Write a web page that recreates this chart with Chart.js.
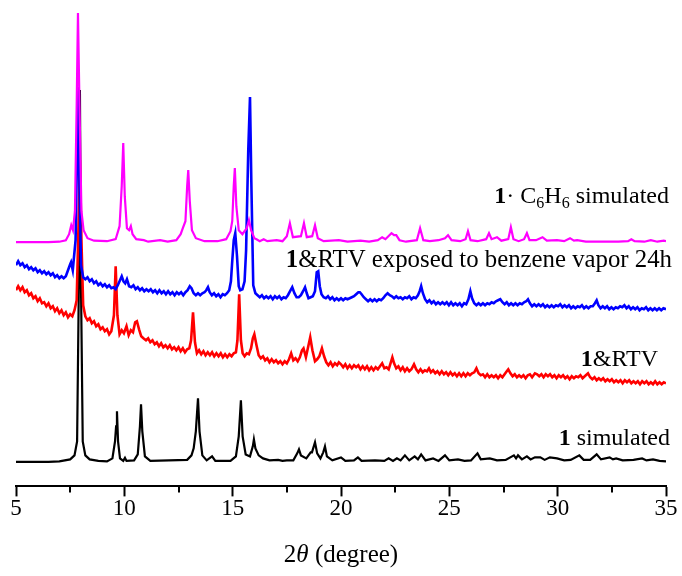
<!DOCTYPE html>
<html>
<head>
<meta charset="utf-8">
<script src="https://cdn.jsdelivr.net/npm/chart.js@4"></script>
<style>
html,body{margin:0;padding:0;background:#fff;}
#wrap{width:682px;height:576px;}
</style>
</head>
<body>
<div id="wrap"><canvas id="c" width="682" height="576"></canvas></div>
<script>
// ---- Data: [2theta (degree), stacked intensity (a.u.)] ----
const xTickLabels = ['5', '10', '15', '20', '25', '30', '35'];

const simBenzPoints = [[5.0,244],[6.5,244],[7.0,244.5],[7.3,246],[7.45,252],[7.55,261],[7.63,256],[7.72,275],[7.8,380],[7.86,473],[7.93,380],[8.02,275],[8.12,256],[8.3,248],[8.6,245.5],[9.2,245],[9.6,247],[9.78,260],[9.88,300],[9.95,343],[10.02,290],[10.12,258],[10.22,256],[10.3,260],[10.38,252],[10.55,247],[10.9,246],[11.1,244.5],[11.65,246],[12.0,244.5],[12.4,246],[12.6,252],[12.7,258],[12.82,265],[12.9,300],[12.95,316],[13.02,285],[13.12,256],[13.3,248],[13.7,245],[14.3,245],[14.7,247],[14.9,255],[14.98,265],[15.05,300],[15.1,318],[15.17,280],[15.28,256],[15.45,252],[15.65,258],[15.75,266],[15.85,256],[16.0,248],[16.1,247],[16.25,245],[16.43,247],[16.6,245],[17.03,246],[17.3,245],[17.5,250],[17.64,263],[17.78,249],[18.15,250],[18.29,263],[18.42,249],[18.67,250],[18.8,261],[18.93,248],[19.2,245],[19.9,246],[20.3,244.5],[20.9,245.5],[21.3,244.5],[21.7,246],[21.9,249],[22.05,247],[22.33,253],[22.45,251],[22.55,251],[22.7,246],[23.0,244.5],[23.5,246],[23.65,258],[23.8,246],[24.1,245],[24.5,246],[24.8,248],[24.94,251],[25.1,246],[25.5,245],[25.75,247],[25.86,255],[25.98,246],[26.3,245],[26.7,247],[26.83,253],[26.95,247],[27.2,249],[27.4,245.5],[27.72,247],[27.84,259],[27.96,247],[28.2,245],[28.45,247],[28.58,253],[28.7,246],[29.0,246],[29.3,249],[29.5,245.5],[29.97,246],[30.3,245],[30.57,248],[30.75,245.5],[30.9,246],[31.3,244.5],[32.0,244.5],[32.8,244.5],[33.25,245],[33.4,247],[33.55,245],[34.0,244.5],[34.3,246],[34.6,244.5],[34.9,245.5],[35.0,245]];

const exposedPoints = [[5.0,221],[5.1,225],[5.2,221],[5.3,223],[5.4,219],[5.5,221],[5.6,217],[5.7,219],[5.8,216],[5.9,218],[6.0,214],[6.1,216],[6.2,213],[6.3,215],[6.4,212],[6.5,214],[6.6,211],[6.7,213],[6.8,209],[6.9,211],[7.0,208],[7.1,210],[7.2,208],[7.3,210],[7.4,216],[7.5,222],[7.54,224],[7.62,216],[7.75,246],[7.82,336],[7.86,399],[7.92,316],[8.0,221],[8.1,209],[8.2,207],[8.3,209],[8.4,205],[8.5,207],[8.6,203],[8.7,205],[8.8,201],[8.9,203],[9.0,200],[9.1,202],[9.2,199],[9.3,201],[9.4,198],[9.5,199],[9.6,197],[9.7,201],[9.8,206],[9.88,210],[9.96,205],[10.04,203],[10.12,207],[10.22,200],[10.32,199],[10.42,201],[10.52,197],[10.62,199],[10.72,196],[10.82,198],[10.92,195],[11.02,197],[11.12,195],[11.22,197],[11.32,194],[11.42,196],[11.52,193],[11.62,196],[11.72,193],[11.82,195],[11.92,192],[12.02,195],[12.12,192],[12.22,194],[12.32,191],[12.42,194],[12.52,192],[12.62,194],[12.72,191],[12.82,194],[12.92,196],[13.02,200],[13.1,198],[13.2,193],[13.3,191],[13.4,193],[13.5,191],[13.6,193],[13.7,194],[13.78,196],[13.86,199],[13.94,194],[14.04,191],[14.14,193],[14.24,190],[14.34,192],[14.44,189],[14.54,192],[14.64,191],[14.74,193],[14.84,196],[14.92,205],[14.98,225],[15.05,246],[15.12,253],[15.2,230],[15.28,200],[15.35,196],[15.45,197],[15.55,205],[15.62,236],[15.72,336],[15.8,389],[15.86,306],[15.95,201],[16.05,193],[16.15,191],[16.25,189],[16.35,191],[16.45,188],[16.55,190],[16.65,188],[16.75,190],[16.85,187],[16.95,190],[17.05,188],[17.15,190],[17.25,187],[17.35,189],[17.45,188],[17.55,191],[17.65,195],[17.75,199],[17.85,193],[17.95,189],[18.05,189],[18.15,191],[18.25,195],[18.34,199],[18.42,193],[18.5,188],[18.6,189],[18.7,190],[18.8,195],[18.88,214],[18.95,215],[19.02,200],[19.1,192],[19.2,189],[19.3,188],[19.4,190],[19.5,187],[19.6,189],[19.7,186],[19.8,188],[19.9,186],[20.0,188],[20.1,186],[20.2,188],[20.3,187],[20.4,188],[20.5,189],[20.6,190],[20.7,192],[20.8,194],[20.87,194],[20.95,192],[21.05,189],[21.15,187],[21.25,185],[21.35,187],[21.45,185],[21.55,187],[21.65,185],[21.75,187],[21.85,186],[21.95,188],[22.05,191],[22.15,193],[22.25,191],[22.35,190],[22.45,188],[22.55,190],[22.65,188],[22.75,189],[22.85,187],[22.95,189],[23.05,188],[23.15,190],[23.25,187],[23.35,189],[23.45,188],[23.55,191],[23.63,195],[23.7,200],[23.78,193],[23.88,187],[23.98,184],[24.08,186],[24.18,183],[24.28,185],[24.38,182],[24.48,184],[24.58,182],[24.68,184],[24.78,182],[24.88,184],[24.98,181],[25.08,184],[25.18,181],[25.28,183],[25.38,181],[25.48,183],[25.58,180],[25.68,183],[25.78,182],[25.88,187],[25.97,195],[26.05,188],[26.15,183],[26.25,181],[26.35,183],[26.45,181],[26.55,183],[26.65,181],[26.75,183],[26.85,182],[26.95,184],[27.05,183],[27.15,185],[27.25,186],[27.35,187],[27.45,184],[27.55,182],[27.65,184],[27.75,181],[27.85,183],[27.95,181],[28.05,183],[28.15,181],[28.25,183],[28.35,182],[28.45,184],[28.55,185],[28.63,187],[28.72,183],[28.82,180],[28.92,182],[29.02,180],[29.12,182],[29.22,180],[29.32,182],[29.42,179],[29.52,181],[29.62,179],[29.72,181],[29.82,179],[29.92,181],[30.02,180],[30.12,182],[30.22,179],[30.32,181],[30.42,179],[30.52,181],[30.62,178],[30.72,180],[30.82,178],[30.92,180],[31.02,179],[31.12,181],[31.22,178],[31.32,180],[31.42,178],[31.52,180],[31.62,180],[31.72,183],[31.8,186],[31.88,181],[31.98,178],[32.08,180],[32.18,178],[32.28,180],[32.38,177],[32.48,179],[32.58,177],[32.68,179],[32.78,178],[32.88,180],[32.98,179],[33.08,181],[33.18,178],[33.28,180],[33.38,177],[33.48,179],[33.58,177],[33.68,179],[33.78,176],[33.88,178],[33.98,177],[34.08,179],[34.18,176],[34.28,178],[34.38,176],[34.48,178],[34.58,176],[34.68,178],[34.78,176],[34.88,178],[35.0,177]];

const rtvPoints = [[5.0,196],[5.1,200],[5.2,196],[5.3,199],[5.4,194],[5.5,196],[5.6,191],[5.7,193],[5.8,188],[5.9,190],[6.0,185],[6.1,188],[6.2,183],[6.3,184],[6.4,180],[6.5,183],[6.6,178],[6.7,180],[6.8,175],[6.9,178],[7.0,173],[7.1,176],[7.2,171],[7.3,174],[7.4,169],[7.5,172],[7.6,170],[7.7,176],[7.8,186],[7.88,256],[7.95,326],[8.02,246],[8.1,181],[8.2,170],[8.3,166],[8.4,168],[8.5,163],[8.6,165],[8.7,160],[8.8,162],[8.9,157],[9.0,159],[9.1,155],[9.2,157],[9.3,152],[9.4,155],[9.52,171],[9.6,220],[9.68,171],[9.78,152],[9.88,156],[9.98,153],[10.1,160],[10.2,151],[10.3,156],[10.4,154],[10.5,164],[10.58,165],[10.68,157],[10.78,150],[10.88,148],[11.0,146],[11.1,148],[11.2,144],[11.3,146],[11.4,142],[11.5,144],[11.6,140],[11.7,143],[11.8,139],[11.9,141],[12.0,138],[12.1,141],[12.2,137],[12.3,139],[12.4,136],[12.5,139],[12.6,135],[12.7,138],[12.8,134],[12.9,137],[13.0,138],[13.08,146],[13.17,174],[13.26,144],[13.35,133],[13.45,136],[13.55,132],[13.65,135],[13.75,131],[13.85,134],[13.95,131],[14.05,134],[14.15,130],[14.25,133],[14.35,130],[14.45,133],[14.55,129],[14.65,132],[14.75,129],[14.85,132],[14.95,130],[15.05,133],[15.15,134],[15.22,146],[15.3,192],[15.38,146],[15.46,133],[15.55,130],[15.65,133],[15.75,132],[15.85,138],[15.93,148],[16.0,152],[16.1,141],[16.2,131],[16.3,128],[16.4,130],[16.5,126],[16.6,128],[16.7,124],[16.8,127],[16.9,124],[17.0,126],[17.1,123],[17.2,125],[17.3,122],[17.4,125],[17.5,123],[17.6,127],[17.7,133],[17.8,126],[17.9,128],[18.0,125],[18.1,129],[18.2,136],[18.27,138],[18.38,129],[18.5,141],[18.58,149],[18.68,136],[18.8,125],[18.9,127],[19.0,130],[19.12,138],[19.22,130],[19.32,124],[19.42,121],[19.52,124],[19.62,120],[19.72,123],[19.82,121],[19.9,124],[20.0,122],[20.1,119],[20.2,122],[20.3,118],[20.4,121],[20.5,118],[20.6,121],[20.7,119],[20.8,121],[20.9,117],[21.0,120],[21.1,117],[21.2,120],[21.3,116],[21.4,119],[21.5,116],[21.6,119],[21.7,117],[21.8,120],[21.9,123],[22.0,118],[22.1,119],[22.2,117],[22.3,124],[22.37,129],[22.45,123],[22.55,118],[22.65,120],[22.75,116],[22.85,119],[22.95,115],[23.05,118],[23.15,115],[23.25,117],[23.37,122],[23.47,117],[23.57,114],[23.67,117],[23.77,114],[23.87,116],[23.97,115],[24.06,118],[24.15,114],[24.25,116],[24.35,113],[24.45,115],[24.55,112],[24.65,115],[24.75,112],[24.85,114],[24.95,111],[25.05,114],[25.15,111],[25.25,113],[25.35,110],[25.45,113],[25.55,110],[25.65,113],[25.75,110],[25.85,113],[25.95,111],[26.05,113],[26.15,114],[26.25,118],[26.35,113],[26.45,111],[26.55,112],[26.65,109],[26.75,112],[26.85,109],[26.95,111],[27.05,109],[27.15,111],[27.25,108],[27.35,111],[27.45,109],[27.55,112],[27.65,115],[27.72,117],[27.82,113],[27.92,110],[28.02,112],[28.12,109],[28.22,111],[28.32,109],[28.42,111],[28.52,108],[28.62,111],[28.72,112],[28.82,109],[28.95,113],[29.05,112],[29.15,110],[29.25,112],[29.35,109],[29.45,112],[29.55,110],[29.65,112],[29.75,109],[29.85,111],[29.95,108],[30.05,111],[30.15,109],[30.25,111],[30.35,108],[30.45,110],[30.55,107],[30.65,110],[30.75,108],[30.85,110],[30.95,109],[31.05,111],[31.15,108],[31.25,110],[31.4,113],[31.5,109],[31.6,107],[31.7,109],[31.8,106],[31.9,108],[32.0,106],[32.1,108],[32.2,105],[32.3,107],[32.4,105],[32.5,107],[32.6,104],[32.7,106],[32.8,104],[32.9,106],[33.0,103],[33.1,106],[33.2,104],[33.3,106],[33.4,103],[33.5,105],[33.6,103],[33.7,105],[33.8,102],[33.9,105],[34.0,103],[34.1,105],[34.2,102],[34.3,104],[34.4,102],[34.5,105],[34.6,102],[34.7,104],[34.8,102],[34.9,104],[35.0,103]];

const simPoints = [[5.0,24.5],[6.5,24.5],[7.0,25],[7.5,27],[7.7,31],[7.82,45],[7.9,200],[7.95,396],[8.0,200],[8.08,45],[8.2,31],[8.4,27],[8.8,25.5],[9.2,25],[9.45,28],[9.57,45],[9.62,60],[9.66,75],[9.71,45],[9.8,28],[9.95,25.5],[10.03,28.5],[10.1,25.5],[10.45,26],[10.62,32],[10.72,60],[10.77,82],[10.83,55],[10.95,30],[11.2,25.5],[12.06,26],[12.9,26.5],[13.1,31],[13.2,38],[13.3,55],[13.4,88],[13.47,55],[13.6,31],[13.8,26],[14.05,30],[14.2,25.5],[14.9,25.5],[15.15,30],[15.28,50],[15.38,86],[15.46,50],[15.6,32],[15.8,30],[15.93,40],[15.98,47],[16.05,38],[16.2,31],[16.4,28],[16.7,26],[17.1,26.5],[17.3,25.5],[17.5,26],[17.8,26],[17.98,33],[18.06,37],[18.15,31],[18.4,28],[18.6,34],[18.66,34],[18.8,44],[18.9,33],[19.05,28],[19.18,34],[19.26,40],[19.35,30],[19.6,26],[20.0,29],[20.2,25.5],[20.6,26],[20.78,29],[20.95,25.5],[21.57,26],[22.0,25.5],[22.2,28],[22.4,25.5],[22.58,28],[22.75,26],[22.95,31],[23.15,26],[23.4,30],[23.55,27],[23.7,32],[23.9,26],[24.25,28],[24.5,25.5],[24.8,31],[25.0,26],[25.4,27],[25.7,25.5],[26.0,26],[26.3,33],[26.45,27],[26.87,28],[27.2,26],[27.6,26.5],[27.98,31],[28.08,28],[28.17,31],[28.35,27],[28.58,30],[28.75,27],[28.95,29],[29.2,29],[29.4,26.5],[29.64,29],[29.97,28],[30.3,26],[30.6,26.5],[31.0,31],[31.2,26.5],[31.5,26.5],[31.8,32],[32.0,27],[32.4,29],[32.55,27],[32.7,28],[33.0,26],[33.5,26.5],[33.9,28],[34.1,26],[34.4,27],[34.7,25.5],[35.0,25]];

const seriesNames = ['1·C6H6 simulated', '1&RTV exposed to benzene vapor 24h', '1&RTV', '1 simulated'];
const seriesColors = ['#FF00FF', '#0000FF', '#FF0000', '#000000'];

function pts(arr) { return arr.map(p => ({x: p[0], y: p[1]})); }

const SERIF = '"Liberation Serif", "Times New Roman", serif';

function fontFor(s, size) {
  return (s.bold ? 'bold ' : '') + (s.italic ? 'italic ' : '') + (s.sub ? Math.round(size * 0.65) : size) + 'px ' + SERIF;
}
function richRight(ctx, segs, xr, y, size) {
  let total = 0;
  segs.forEach(s => { ctx.font = fontFor(s, size); s.w = ctx.measureText(s.t).width; total += s.w; });
  let x = xr - total;
  segs.forEach(s => {
    ctx.font = fontFor(s, size);
    ctx.fillText(s.t, x, y + (s.sub ? size * 0.22 : 0));
    x += s.w;
  });
  return total;
}
function richCenter(ctx, segs, xc, y, size) {
  let total = 0;
  segs.forEach(s => { ctx.font = fontFor(s, size); total += ctx.measureText(s.t).width; });
  richRight(ctx, segs, xc + total / 2, y, size);
}

const decor = {
  id: 'decor',
  afterDraw(chart) {
    const ctx = chart.ctx;
    const xs = chart.scales.x;
    const area = chart.chartArea;
    ctx.save();
    ctx.strokeStyle = '#000';
    ctx.lineWidth = 2;
    [7.5, 12.5, 17.5, 22.5, 27.5, 32.5].forEach(v => {
      const p = Math.round(xs.getPixelForValue(v));
      ctx.beginPath();
      ctx.moveTo(p, area.bottom);
      ctx.lineTo(p, area.bottom + 6);
      ctx.stroke();
    });
    ctx.fillStyle = '#000';
    ctx.textBaseline = 'alphabetic';
    richRight(ctx, [{t: '1', bold: true}, {t: '· C'}, {t: '6', sub: true}, {t: 'H'}, {t: '6', sub: true}, {t: ' simulated'}], 669, 203, 24);
    richRight(ctx, [{t: '1', bold: true}, {t: '&RTV exposed to benzene vapor 24h'}], 672, 267, 24.8);
    richRight(ctx, [{t: '1', bold: true}, {t: '&RTV'}], 658, 366, 24);
    richRight(ctx, [{t: '1', bold: true}, {t: ' simulated'}], 670, 445, 24);
    richCenter(ctx, [{t: '2'}, {t: 'θ', italic: true}, {t: ' (degree)'}], (area.left + area.right) / 2, 562, 25);
    ctx.restore();
  }
};

new Chart(document.getElementById('c'), {
  type: 'line',
  data: {
    datasets: [
      {label: seriesNames[0], data: pts(simBenzPoints), borderColor: seriesColors[0], borderWidth: 2.2, order: 0},
      {label: seriesNames[1], data: pts(exposedPoints), borderColor: seriesColors[1], borderWidth: 2.6, order: 1},
      {label: seriesNames[2], data: pts(rtvPoints), borderColor: seriesColors[2], borderWidth: 2.6, order: 2},
      {label: seriesNames[3], data: pts(simPoints), borderColor: seriesColors[3], borderWidth: 2.2, order: 3}
    ].map(d => Object.assign(d, {pointRadius: 0, tension: 0, fill: false}))
  },
  options: {
    responsive: false,
    animation: false,
    devicePixelRatio: 1,
    layout: {padding: {left: 16, right: 16, top: 0, bottom: 54}},
    plugins: {legend: {display: false}, tooltip: {enabled: false}},
    scales: {
      x: {
        type: 'linear', min: 5, max: 35,
        border: {display: true, color: '#000', width: 2},
        grid: {drawOnChartArea: false, drawTicks: true, tickLength: 10, tickWidth: 2, tickColor: '#000'},
        ticks: {
          stepSize: 5, color: '#000', padding: -1, maxRotation: 0,
          font: {family: SERIF, size: 23},
          callback: (v) => xTickLabels[Math.round((v - 5) / 5)] ?? ''
        }
      },
      y: {type: 'linear', min: 0, max: 486, display: false}
    }
  },
  plugins: [decor]
});
</script>
</body>
</html>
